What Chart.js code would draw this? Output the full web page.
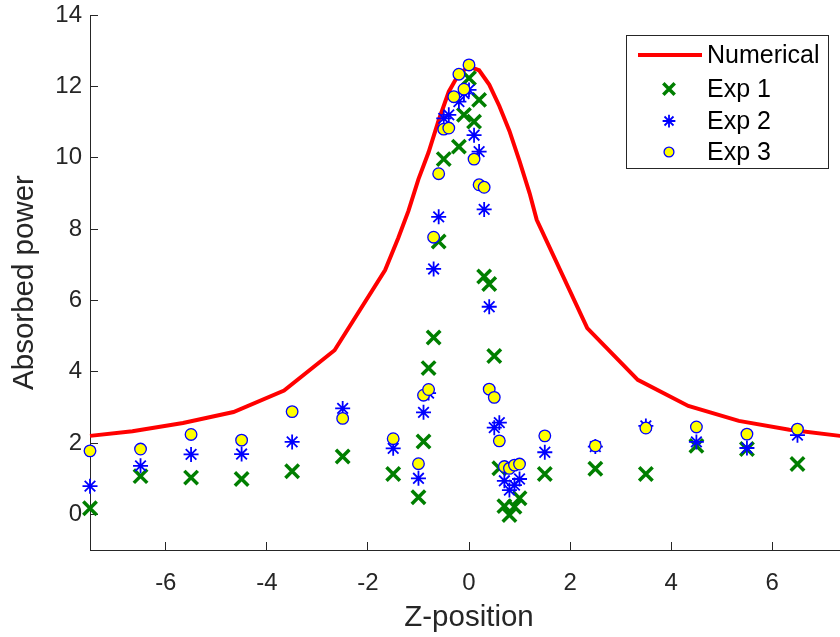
<!DOCTYPE html>
<html>
<head>
<meta charset="utf-8">
<script src="https://cdn.jsdelivr.net/npm/chart.js@4/dist/chart.umd.min.js"></script>
<style>
  html, body { margin: 0; padding: 0; background: #fff; overflow: hidden; }
  #wrap { width: 870px; height: 637px; }
</style>
</head>
<body>
<div id="wrap"><canvas id="absorbChart" width="870" height="637"></canvas></div>
<script>
// tick labels
var xTicks = [-6, -4, -2, 0, 2, 4, 6];
var yTicks = [0, 2, 4, 6, 8, 10, 12, 14];

// numerical curve
var numZ = [-7.5, -6.66, -5.66, -4.66, -3.66, -2.66, -1.66, -1.4, -1.2, -1.0, -0.8, -0.6, -0.4, -0.2, 0.0, 0.2, 0.4, 0.6, 0.8, 1.0, 1.2, 1.34, 2.34, 3.34, 4.34, 5.34, 6.34, 7.34, 7.5];
var numP = [2.2, 2.33, 2.56, 2.87, 3.47, 4.6, 6.85, 7.75, 8.5, 9.4, 10.15, 11.05, 11.85, 12.35, 12.55, 12.45, 12.05, 11.45, 10.75, 9.9, 9.0, 8.26, 5.22, 3.77, 3.04, 2.62, 2.37, 2.2, 2.18];

// Exp 1
var exp1Z = [-7.5, -6.5, -5.5, -4.5, -3.5, -2.5, -1.5, -1.0, -0.9, -0.8, -0.7, -0.6, -0.5, -0.2, -0.1, 0.0, 0.1, 0.2, 0.3, 0.4, 0.5, 0.6, 0.7, 0.8, 0.9, 1.0, 1.5, 2.5, 3.5, 4.5, 5.5, 6.5];
var exp1P = [0.17, 1.07, 1.03, 0.99, 1.21, 1.62, 1.13, 0.48, 2.04, 4.1, 4.96, 7.65, 9.96, 10.31, 11.2, 12.23, 11.01, 11.62, 6.67, 6.46, 4.44, 1.29, 0.23, -0.02, 0.21, 0.45, 1.13, 1.28, 1.13, 1.92, 1.83, 1.41];

// Exp 2
var exp2Z = [-7.5, -6.5, -5.5, -4.5, -3.5, -2.5, -1.5, -1.0, -0.9, -0.8, -0.7, -0.6, -0.5, -0.4, -0.2, -0.1, 0.0, 0.1, 0.2, 0.3, 0.4, 0.5, 0.6, 0.7, 0.8, 0.9, 1.0, 1.5, 2.5, 3.5, 4.5, 5.5, 6.5];
var exp2P = [0.79, 1.36, 1.68, 1.69, 2.03, 2.97, 1.85, 1.01, 2.86, 3.4, 6.88, 8.34, 11.1, 11.2, 11.57, 11.8, 11.9, 10.63, 10.17, 8.55, 5.82, 2.43, 2.57, 0.94, 0.68, 0.82, 0.99, 1.74, 1.9, 2.48, 2.03, 1.86, 2.22];

// Exp 3
var exp3Z = [-7.5, -6.5, -5.5, -4.5, -3.5, -2.5, -1.5, -1.0, -0.9, -0.8, -0.7, -0.6, -0.5, -0.4, -0.3, -0.2, -0.1, 0.0, 0.1, 0.2, 0.3, 0.4, 0.5, 0.6, 0.7, 0.8, 0.9, 1.0, 1.5, 2.5, 3.5, 4.5, 5.5, 6.5];
var exp3P = [1.78, 1.83, 2.24, 2.08, 2.88, 2.69, 2.12, 1.42, 3.34, 3.5, 7.77, 9.55, 10.8, 10.83, 11.71, 12.34, 11.92, 12.6, 9.96, 9.24, 9.17, 3.51, 3.28, 2.06, 1.34, 1.29, 1.38, 1.41, 2.2, 1.92, 2.42, 2.45, 2.25, 2.39];

function pts(xs, ys) {
    return xs.map(function (x, i) { return { x: x, y: ys[i] } })
}

var axisColor = '#262626';
var fontFamily = "'Liberation Sans', Arial, Helvetica, sans-serif";

// legend drawn inside the plot, MATLAB style
var boxLegend = {
    id: 'boxLegend',
    afterDraw: function (chart) {
        var ctx = chart.ctx;
        var left = 626, top = 35, right = 828, bottom = 168;
        var rows = [55, 89, 121, 152];
        ctx.save();
        ctx.fillStyle = '#fff';
        ctx.fillRect(left, top, right - left, bottom - top);
        ctx.strokeStyle = axisColor;
        ctx.lineWidth = 1;
        ctx.strokeRect(left + 0.5, top + 0.5, right - left, bottom - top);
        chart.data.datasets.forEach(function (ds, i) {
            var y = rows[i];
            if (ds.showLine) {
                ctx.strokeStyle = ds.borderColor;
                ctx.lineWidth = ds.borderWidth;
                ctx.beginPath();
                ctx.moveTo(638, y);
                ctx.lineTo(702, y);
                ctx.stroke();
            } else {
                ctx.strokeStyle = ds.pointBorderColor;
                ctx.fillStyle = ds.pointBackgroundColor;
                ctx.lineWidth = ds.pointBorderWidth;
                Chart.helpers.drawPoint(ctx, {
                    pointStyle: ds.pointStyle,
                    radius: ds.pointRadius * 0.85,
                    borderWidth: ds.pointBorderWidth,
                    rotation: 0
                }, 669, y);
            }
            ctx.fillStyle = '#000';
            ctx.font = '25px ' + fontFamily;
            ctx.textBaseline = 'middle';
            ctx.textAlign = 'left';
            ctx.fillText(ds.label, 707, y + 1);
        });
        ctx.restore();
    }
}

var absorbChart = new Chart(document.getElementById('absorbChart'), {
    type: 'scatter',
    data: {
        datasets: [
            {
                label: 'Numerical',
                data: pts(numZ, numP),
                showLine: true,
                borderColor: '#ff0000',
                backgroundColor: '#ff0000',
                borderWidth: 4,
                pointRadius: 0,
                tension: 0,
                clip: false,
                order: 4
            },
            {
                label: 'Exp 1',
                data: pts(exp1Z, exp1P),
                pointStyle: 'crossRot',
                pointRadius: 9.5,
                pointBorderWidth: 3.5,
                pointBorderColor: '#007f00',
                pointBackgroundColor: '#007f00',
                clip: false,
                order: 3
            },
            {
                label: 'Exp 2',
                data: pts(exp2Z, exp2P),
                pointStyle: 'star',
                pointRadius: 7.5,
                pointBorderWidth: 1.8,
                pointBorderColor: '#0000ff',
                pointBackgroundColor: '#0000ff',
                clip: false,
                order: 2
            },
            {
                label: 'Exp 3',
                data: pts(exp3Z, exp3P),
                pointStyle: 'circle',
                pointRadius: 5.8,
                pointBorderWidth: 1.3,
                pointBorderColor: '#0000ff',
                pointBackgroundColor: '#ffff00',
                clip: false,
                order: 1
            }
        ]
    },
    options: {
        responsive: false,
        animation: false,
        events: [],
        layout: { padding: { top: 15, right: 22, left: 0, bottom: 0 } },
        plugins: {
            legend: { display: false },
            tooltip: { enabled: false }
        },
        scales: {
            x: {
                type: 'linear',
                min: -7.5,
                max: 7.5,
                afterBuildTicks: function (scale) {
                    scale.ticks = xTicks.map(function (v) { return { value: v } })
                },
                afterFit: function (scale) {
                    scale.height = 87;
                    scale.paddingLeft = 0;
                    scale.paddingRight = 0;
                },
                border: { display: true, color: axisColor, width: 1 },
                grid: { drawOnChartArea: false, drawTicks: true, tickLength: -8, color: axisColor },
                ticks: {
                    color: axisColor,
                    padding: 27,
                    maxRotation: 0,
                    font: { family: fontFamily, size: 24 }
                },
                title: {
                    display: true,
                    text: 'Z-position',
                    color: axisColor,
                    font: { family: fontFamily, size: 29.5 },
                    padding: { top: 0, bottom: 1 }
                }
            },
            y: {
                type: 'linear',
                min: -1,
                max: 14,
                afterBuildTicks: function (scale) {
                    scale.ticks = yTicks.map(function (v) { return { value: v } })
                },
                afterFit: function (scale) {
                    scale.width = 90;
                    scale.paddingTop = 0;
                    scale.paddingBottom = 0;
                },
                border: { display: true, color: axisColor, width: 1 },
                grid: { drawOnChartArea: false, drawTicks: true, tickLength: -8, color: axisColor },
                ticks: {
                    color: axisColor,
                    padding: 16,
                    font: { family: fontFamily, size: 24 }
                },
                title: {
                    display: true,
                    text: 'Absorbed power',
                    color: axisColor,
                    font: { family: fontFamily, size: 29.5 },
                    padding: { top: 7, bottom: 0 }
                }
            }
        }
    },
    plugins: [boxLegend]
})
</script>
</body>
</html>
